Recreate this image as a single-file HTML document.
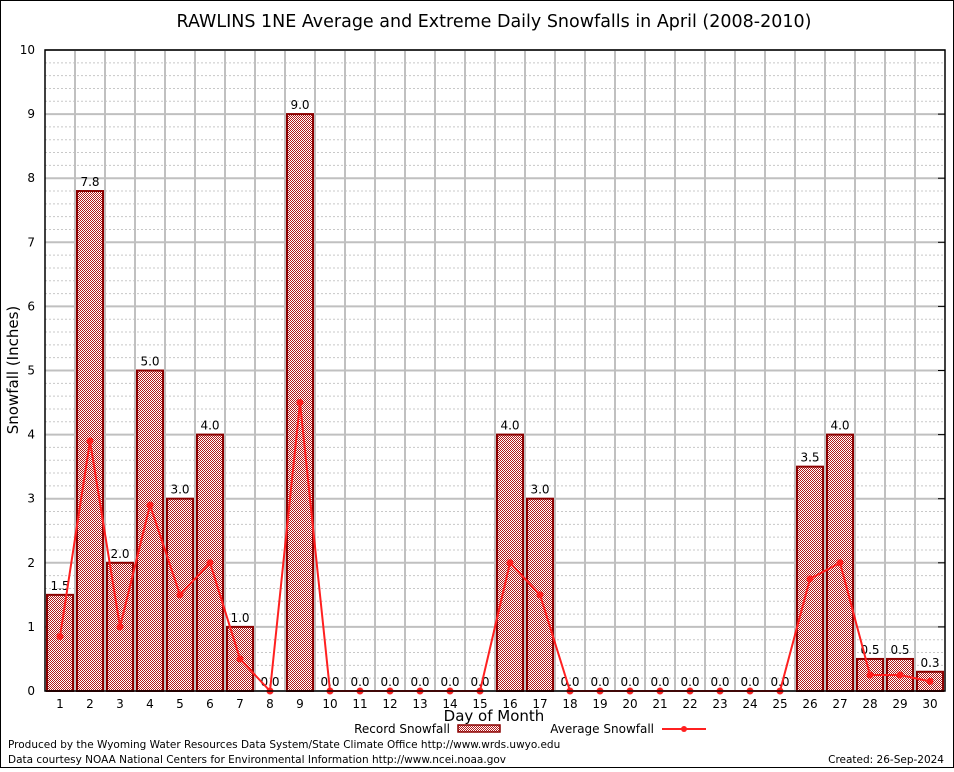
<!DOCTYPE html>
<html><head><meta charset="utf-8"><style>
body{margin:0;background:#fff;font-family:"DejaVu Sans","Liberation Sans",sans-serif}
svg text{font-family:"DejaVu Sans","Liberation Sans",sans-serif}
</style></head><body>
<svg id="chart" width="954" height="768" viewBox="0 0 954 768" xmlns="http://www.w3.org/2000/svg">
<defs>
<pattern id="chk" width="2" height="2" patternUnits="userSpaceOnUse">
<rect width="2" height="2" fill="#fff"/><rect width="1" height="1" fill="#b01818"/><rect x="1" y="1" width="1" height="1" fill="#b01818"/>
</pattern>
</defs>
<rect x="0.5" y="0.5" width="953" height="767" fill="#fff" stroke="#000"/>
<text x="494" y="27" font-size="17.5" text-anchor="middle">RAWLINS 1NE Average and Extreme Daily Snowfalls in April (2008-2010)</text>
<g id="grid"></g>
<g id="bars"></g>
<g id="line"></g>
<g id="axes"></g>
<text x="18" y="370" font-size="15" text-anchor="middle" transform="rotate(-90 18 370)">Snowfall (Inches)</text>
<text x="494" y="721" font-size="15" text-anchor="middle">Day of Month</text>
<g>
<text x="450" y="733" font-size="12" text-anchor="end">Record Snowfall</text>
<rect x="458" y="725" width="42" height="7" fill="url(#chk)" stroke="#8b0000" stroke-width="1.5"/>
<text x="654" y="733" font-size="12" text-anchor="end">Average Snowfall</text>
<line x1="662" y1="729" x2="706" y2="729" stroke="#ff2020" stroke-width="2"/>
<circle cx="684" cy="729" r="3" fill="#ff2020"/>
</g>
<text x="8" y="748" font-size="10.5">Produced by the Wyoming Water Resources Data System/State Climate Office http://www.wrds.uwyo.edu</text>
<text x="8" y="763" font-size="10.5">Data courtesy NOAA National Centers for Environmental Information http://www.ncei.noaa.gov</text>
<text x="944" y="763" font-size="10.5" text-anchor="end">Created: 26-Sep-2024</text>
</svg>
<script>
const days=[1,2,3,4,5,6,7,8,9,10,11,12,13,14,15,16,17,18,19,20,21,22,23,24,25,26,27,28,29,30];
const recordValues=[1.5,7.8,2.0,5.0,3.0,4.0,1.0,0,9.0,0,0,0,0,0,0,4.0,3.0,0,0,0,0,0,0,0,0,3.5,4.0,0.5,0.5,0.3];
const recordLabels=["1.5","7.8","2.0","5.0","3.0","4.0","1.0","0.0","9.0","0.0","0.0","0.0","0.0","0.0","0.0","4.0","3.0","0.0","0.0","0.0","0.0","0.0","0.0","0.0","0.0","3.5","4.0","0.5","0.5","0.3"];
const averageValues=[0.85,3.9,1.0,2.9,1.5,2.0,0.5,0,4.5,0,0,0,0,0,0,2.0,1.5,0,0,0,0,0,0,0,0,1.75,2.0,0.25,0.25,0.15];
const yTicks=[0,1,2,3,4,5,6,7,8,9,10];

const NS="http://www.w3.org/2000/svg";
const L=45,R=945,T=50,B=691,yMax=10;
const bw=(R-L)/days.length;
function xs(i){return L+bw*(i+0.5);}
function ys(v){return B-(B-T)*v/yMax;}
function mk(tag,attrs,parent){const e=document.createElementNS(NS,tag);for(const k in attrs)e.setAttribute(k,attrs[k]);parent.appendChild(e);return e;}
const grid=document.getElementById('grid'),bars=document.getElementById('bars'),line=document.getElementById('line'),axes=document.getElementById('axes');

for(let v=0;v<yMax;v+=0.2){if(Math.abs(v-Math.round(v))<0.01)continue;
 const g=mk('line',{x1:L,x2:R,y1:ys(v),y2:ys(v),stroke:'#c8c8c8','stroke-width':1,'stroke-dasharray':'2,2'},grid);
 
 }
yTicks.forEach(v=>{
 const g=mk('line',{x1:L,x2:R,y1:ys(v),y2:ys(v),stroke:'#c0c0c0','stroke-width':2},grid);
 
 
 const t=mk('text',{x:L-10,y:ys(v)+4,'font-size':12,'text-anchor':'end','font-family':'Liberation Serif, serif'},axes);t.textContent=v;
 
 
 const tk=mk('line',{x1:R-7,x2:R,y1:ys(v),y2:ys(v),stroke:'#000'},axes);
 
 
});
for(let i=1;i<days.length;i++){
 const g=mk('line',{x1:L+bw*i,x2:L+bw*i,y1:T,y2:B,stroke:'#c0c0c0','stroke-width':2},grid);
 
 }
days.forEach((d,i)=>{
 const v=recordValues[i];
 if(v>0){const r=mk('rect',{x:xs(i)-13,y:ys(v),width:26,height:B-ys(v),fill:'url(#chk)',stroke:'#8b0000','stroke-width':2},bars);
  
  }
 const t=mk('text',{x:xs(i),y:ys(v)-5,'font-size':12,'text-anchor':'middle'},bars);t.textContent=recordLabels[i];
 
 
 const xl=mk('text',{x:xs(i),y:B+17,'font-size':12,'text-anchor':'middle','font-family':'Liberation Serif, serif'},axes);xl.textContent=d;
 
 
});
const pl=mk('polyline',{points:averageValues.map((v,i)=>xs(i)+','+ys(v)).join(' '),fill:'none',stroke:'#ff2020','stroke-width':2},line);


averageValues.forEach((v,i)=>{const c=mk('circle',{cx:xs(i),cy:ys(v),r:3.5,fill:'#ff2020'},line);
 
 });
const box=mk('rect',{x:L,y:T,width:R-L,height:B-T,fill:'none',stroke:'#000','stroke-width':1.5},axes);


</script>
</body></html>
